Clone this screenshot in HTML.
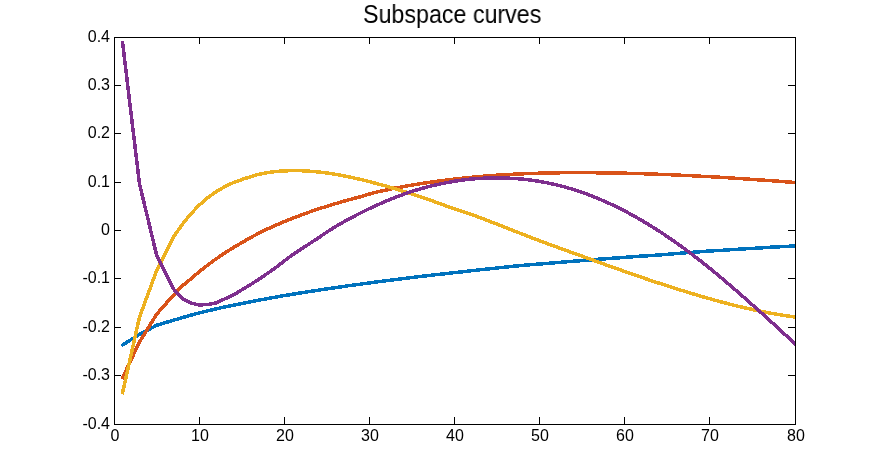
<!DOCTYPE html>
<html><head><meta charset="utf-8"><title>Subspace curves</title>
<style>
html,body{margin:0;padding:0;background:#fff;}
body{width:879px;height:476px;position:relative;overflow:hidden;font-family:"Liberation Sans",sans-serif;color:#000;}
svg{position:absolute;left:0;top:0;}
.title{will-change:transform;position:absolute;left:363px;top:-1px;white-space:nowrap;font-size:25px;line-height:30px;transform-origin:0 0;transform:scaleX(0.93);}
.yl{will-change:transform;position:absolute;left:40px;width:70px;text-align:right;font-size:16px;line-height:20px;height:20px;}
.xl{will-change:transform;position:absolute;top:426px;width:60px;text-align:center;font-size:16px;line-height:20px;height:20px;}
</style></head><body>
<svg width="879" height="476" viewBox="0 0 879 476">
<g fill="#000" shape-rendering="crispEdges">
<rect x="199" y="417" width="1" height="7"/>
<rect x="199" y="38" width="1" height="6"/>
<rect x="115" y="85" width="6" height="1"/>
<rect x="788" y="85" width="7" height="1"/>
<rect x="284" y="417" width="1" height="7"/>
<rect x="284" y="38" width="1" height="6"/>
<rect x="115" y="133" width="6" height="1"/>
<rect x="788" y="133" width="7" height="1"/>
<rect x="369" y="417" width="1" height="7"/>
<rect x="369" y="38" width="1" height="6"/>
<rect x="115" y="182" width="6" height="1"/>
<rect x="788" y="182" width="7" height="1"/>
<rect x="454" y="417" width="1" height="7"/>
<rect x="454" y="38" width="1" height="6"/>
<rect x="115" y="230" width="6" height="1"/>
<rect x="788" y="230" width="7" height="1"/>
<rect x="539" y="417" width="1" height="7"/>
<rect x="539" y="38" width="1" height="6"/>
<rect x="115" y="278" width="6" height="1"/>
<rect x="788" y="278" width="7" height="1"/>
<rect x="624" y="417" width="1" height="7"/>
<rect x="624" y="38" width="1" height="6"/>
<rect x="115" y="327" width="6" height="1"/>
<rect x="788" y="327" width="7" height="1"/>
<rect x="709" y="417" width="1" height="7"/>
<rect x="709" y="38" width="1" height="6"/>
<rect x="115" y="375" width="6" height="1"/>
<rect x="788" y="375" width="7" height="1"/>
</g>
<clipPath id="cp"><rect x="114" y="37" width="681" height="388"/></clipPath>
<g shape-rendering="crispEdges" clip-path="url(#cp)">
<polyline points="123.0,344.7 131.0,339.7 139.5,334.4 148.1,329.9 156.6,325.3 165.1,322.7 173.6,320.2 182.1,317.7 190.6,315.2 199.1,313.0 207.6,310.9 216.1,308.9 224.7,307.0 233.2,305.2 241.7,303.5 250.2,301.8 258.7,300.2 267.2,298.6 275.7,297.1 284.2,295.6 292.8,294.2 301.3,292.8 309.8,291.5 318.3,290.2 326.8,288.9 335.3,287.7 343.8,286.4 352.3,285.2 360.9,284.1 369.4,282.9 377.9,281.8 386.4,280.7 394.9,279.6 403.4,278.6 411.9,277.5 420.4,276.5 429.0,275.5 437.5,274.5 446.0,273.6 454.5,272.6 463.0,271.7 471.5,270.7 480.0,269.8 488.5,268.9 497.1,268.0 505.6,267.1 514.1,266.2 522.6,265.4 531.1,264.7 539.6,264.0 548.1,263.3 556.6,262.6 565.2,261.9 573.7,261.2 582.2,260.6 590.7,259.9 599.2,259.2 607.7,258.6 616.2,258.0 624.8,257.4 633.3,256.7 641.8,256.1 650.3,255.6 658.8,255.0 667.3,254.3 675.8,253.6 684.3,252.9 692.8,252.3 701.4,251.6 709.9,251.0 718.4,250.5 726.9,250.0 735.4,249.4 743.9,248.9 752.4,248.4 760.9,247.9 769.5,247.3 778.0,246.9 786.5,246.4 795.0,245.9" fill="none" stroke="#0072BD" stroke-width="3.5" stroke-linejoin="round" stroke-linecap="square"/>
<polyline points="122.8,377.4 131.0,359.9 139.5,342.0 148.1,328.1 156.6,314.3 165.1,304.6 173.6,295.0 182.1,286.1 190.6,279.1 199.1,271.8 207.6,265.1 216.1,258.9 224.7,253.1 233.2,247.7 241.7,242.7 250.2,237.8 258.7,233.3 267.2,229.1 275.7,225.3 284.2,221.6 292.8,218.2 301.3,215.0 309.8,211.9 318.3,209.0 326.8,206.3 335.3,203.7 343.8,201.2 352.3,198.9 360.9,196.6 369.4,194.0 377.9,191.8 386.4,190.0 394.9,188.2 403.4,186.6 411.9,185.1 420.4,183.7 429.0,182.4 437.5,181.2 446.0,180.1 454.5,179.1 463.0,178.1 471.5,177.3 480.0,176.5 488.5,175.8 497.1,175.2 505.6,174.7 514.1,174.2 522.6,173.8 531.1,173.5 539.6,173.2 548.1,173.0 556.6,172.8 565.2,172.7 573.7,172.7 582.2,172.7 590.7,172.7 599.2,172.8 607.7,172.9 616.2,173.0 624.8,173.2 633.3,173.4 641.8,173.7 650.3,174.0 658.8,174.3 667.3,174.6 675.8,175.0 684.3,175.4 692.8,175.8 701.4,176.3 709.9,176.7 718.4,177.2 726.9,177.7 735.4,178.3 743.9,178.8 752.4,179.4 760.9,180.0 769.5,180.6 778.0,181.2 786.5,181.9 795.0,182.5" fill="none" stroke="#D95319" stroke-width="3.5" stroke-linejoin="round" stroke-linecap="square"/>
<polyline points="122.6,392.6 131.0,355.1 139.5,317.0 148.1,293.9 156.6,270.7 165.1,253.8 173.6,236.8 182.1,224.7 190.6,214.1 199.1,205.2 207.6,197.8 216.1,191.7 224.7,186.7 233.2,182.7 241.7,179.6 250.2,176.8 258.7,174.3 267.2,172.6 275.7,171.5 284.2,170.9 292.8,170.6 301.3,170.7 309.8,171.2 318.3,172.0 326.8,173.0 335.3,174.3 343.8,175.9 352.3,177.6 360.9,179.5 369.4,181.6 377.9,183.9 386.4,186.2 394.9,188.7 403.4,191.3 411.9,194.0 420.4,196.7 429.0,199.7 437.5,202.8 446.0,205.9 454.5,208.9 463.0,211.7 471.5,214.5 480.0,217.6 488.5,220.9 497.1,224.2 505.6,227.6 514.1,230.9 522.6,234.2 531.1,237.5 539.6,240.7 548.1,243.9 556.6,247.0 565.2,250.1 573.7,253.2 582.2,256.2 590.7,259.3 599.2,262.4 607.7,265.5 616.2,268.5 624.8,271.5 633.3,274.5 641.8,277.4 650.3,280.3 658.8,283.1 667.3,285.9 675.8,288.6 684.3,291.2 692.8,293.8 701.4,296.4 709.9,298.8 718.4,301.2 726.9,303.4 735.4,305.6 743.9,307.6 752.4,309.5 760.9,311.3 769.5,313.0 778.0,314.5 786.5,315.8 795.0,317.0" fill="none" stroke="#EDB120" stroke-width="3.5" stroke-linejoin="round" stroke-linecap="square"/>
<polyline points="122.6,42.6 131.0,113.0 139.5,184.0 148.1,219.6 156.6,255.1 165.1,272.1 173.6,289.1 182.1,298.4 190.6,303.1 199.1,304.9 207.6,304.6 216.1,302.9 224.7,298.9 233.2,295.1 241.7,289.9 250.2,284.8 258.7,279.3 267.2,273.6 275.7,267.6 284.2,261.0 292.8,254.6 301.3,249.0 309.8,243.5 318.3,237.9 326.8,232.1 335.3,226.7 343.8,221.8 352.3,217.2 360.9,212.8 369.4,208.6 377.9,204.7 386.4,201.0 394.9,197.5 403.4,194.4 411.9,191.4 420.4,188.8 429.0,186.5 437.5,184.5 446.0,182.8 454.5,181.2 463.0,180.0 471.5,179.0 480.0,178.4 488.5,178.0 497.1,177.9 505.6,178.0 514.1,178.5 522.6,179.1 531.1,180.1 539.6,181.4 548.1,183.0 556.6,184.9 565.2,187.1 573.7,189.6 582.2,192.4 590.7,195.5 599.2,199.0 607.7,202.7 616.2,206.7 624.8,211.0 633.3,215.6 641.8,220.4 650.3,225.6 658.8,230.9 667.3,236.6 675.8,242.5 684.3,248.6 692.8,255.0 701.4,261.6 709.9,268.4 718.4,275.4 726.9,282.6 735.4,289.9 743.9,297.3 752.4,304.9 760.9,312.5 769.5,320.2 778.0,328.0 786.5,335.9 795.0,343.8" fill="none" stroke="#7E2F8E" stroke-width="3.5" stroke-linejoin="round" stroke-linecap="square"/>
</g>
<g fill="#000" shape-rendering="crispEdges">
<rect x="114" y="37" width="682" height="1"/>
<rect x="114" y="424" width="682" height="1"/>
<rect x="114" y="37" width="1" height="388"/>
<rect x="795" y="37" width="1" height="388"/>
</g>
</svg>
<div class="title">Subspace curves</div>
<div class="yl" style="top:27px">0.4</div>
<div class="yl" style="top:75px">0.3</div>
<div class="yl" style="top:123px">0.2</div>
<div class="yl" style="top:172px">0.1</div>
<div class="yl" style="top:220px">0</div>
<div class="yl" style="top:268px">-0.1</div>
<div class="yl" style="top:317px">-0.2</div>
<div class="yl" style="top:365px">-0.3</div>
<div class="yl" style="top:414px">-0.4</div>
<div class="xl" style="left:84.5px">0</div>
<div class="xl" style="left:169.5px">10</div>
<div class="xl" style="left:254.5px">20</div>
<div class="xl" style="left:339.5px">30</div>
<div class="xl" style="left:424.5px">40</div>
<div class="xl" style="left:509.5px">50</div>
<div class="xl" style="left:594.5px">60</div>
<div class="xl" style="left:679.5px">70</div>
<div class="xl" style="left:765.5px">80</div>
</body></html>
